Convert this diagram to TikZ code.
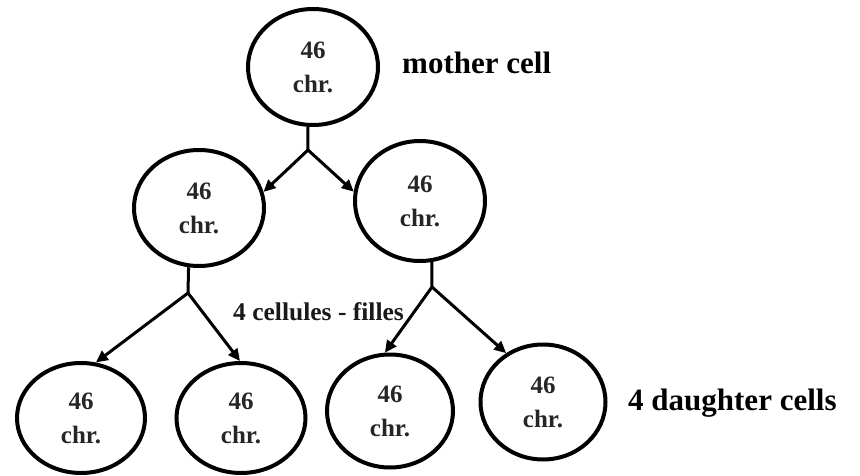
\documentclass[tikz,border=0pt]{standalone}
\usepackage{fontspec}
\setmainfont{Liberation Serif}
\usetikzlibrary{shapes.geometric,arrows.meta}
\begin{document}
\begin{tikzpicture}[x=1pt,y=-1pt,
  cell/.style={ellipse,draw=black,line width=4pt,inner sep=0pt,
    minimum width=#1,minimum height=116pt,align=center,
    font=\fontsize{25}{34}\selectfont\bfseries,text=black!85},
  cell/.default=130pt,
  link/.style={line width=3pt},
  arr/.style={line width=3pt,-{Triangle[length=12pt,width=11pt]}},
  caption/.style={font=\fontsize{31}{36}\selectfont\bfseries,anchor=base west,inner sep=0pt}]
\useasboundingbox (0,0) rectangle (860,476);

% mother cell
\node[cell,minimum height=116pt] (m) at (313,67) {46\\chr.};
\node[caption] (lm) at (402,74) {mother cell};

% first division
\node[cell,minimum width=130pt] (a) at (199,208) {46\\chr.};
\node[cell,minimum width=130pt,minimum height=120pt] (b) at (420,201) {46\\chr.};
\coordinate (j1) at (308,150);
\draw[link] (m.-95) -- (j1);
\draw[arr] (j1) -- (a.14);
\draw[arr] (j1) -- (b.172);

% second division
\node[cell,minimum width=128pt,minimum height=110pt] (c) at (81,418) {46\\chr.};
\node[cell,minimum width=129pt,minimum height=110pt] (d) at (241,418) {46\\chr.};
\node[cell,minimum width=126pt,minimum height=113pt] (e) at (390,411) {46\\chr.};
\node[cell,minimum width=125pt,minimum height=115pt] (f) at (543,402) {46\\chr.};

\coordinate (j2) at (188,293);
\coordinate (j3) at (432,287);
\draw[link] (a.-100) -- (j2);
\draw[link] (b.-79) -- (j3);
\draw[arr] (j2) -- (c.75);
\draw[arr] (j2) -- (d.91);
\draw[arr] (j3) -- (e.95);
\draw[arr] (j3) -- (f.127);

\node[caption,font=\fontsize{25.5}{30}\selectfont\bfseries,text=black!90] (lf) at (233,320) {4 cellules - filles};
\node[caption] (ld) at (628,410) {4 daughter cells};
\end{tikzpicture}
\end{document}
